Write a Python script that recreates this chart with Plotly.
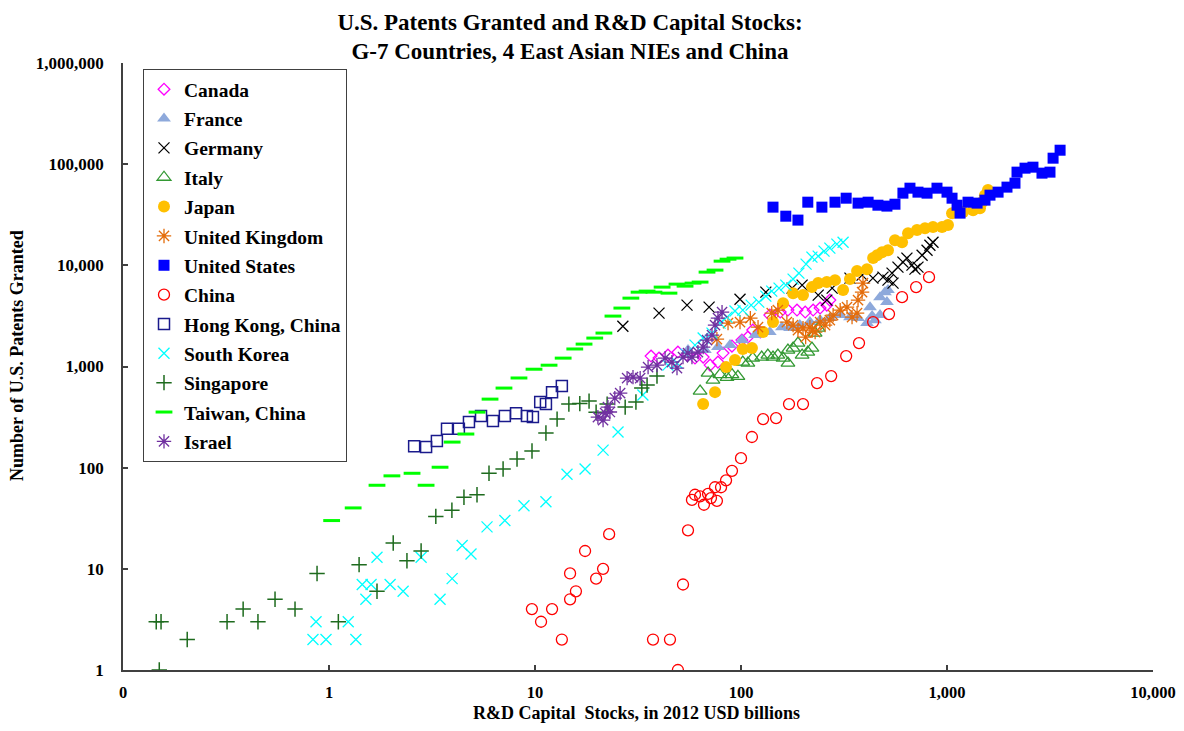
import plotly.graph_objects as go

# ---------------- data (R&D capital stock, USD bn ; US patents granted) ----------------
canada_x = [36.6, 40.0, 44.2, 49.4, 54.7, 59.8, 65.5, 70.8, 77.3, 81.8, 90.4, 101, 108, 114, 124,
            138, 155, 169, 187, 205, 224, 242, 261, 270]
canada_y = [1267, 1211, 1296, 1388, 1296, 1211, 1238, 1032, 1105, 1357, 1590, 1823, 1952, 2290, 2188,
            3220, 3450, 3610, 3610, 3450, 3610, 3780, 4040, 4530]

france_x = [55.3, 66.8, 77.3, 88.4, 101, 117, 138, 158, 173, 193, 216, 242, 270, 303, 338, 370,
            409, 433, 447, 473, 423, 473, 500, 517, 511]
france_y = [1453, 1453, 1556, 1628, 1823, 2044, 2188, 2450, 2396, 2566, 2748, 2880, 3010, 3220, 3076, 3010,
            2686, 3150, 2873, 3220, 3860, 4850, 5430, 5690, 4330]

germany_x = [26.7, 40.0, 54.7, 70, 98.9, 132, 177, 198, 237, 261, 277, 338, 387, 437, 489, 517, 547,
             541, 578, 611, 639, 676, 699, 723, 757, 800, 826, 855]
germany_y = [2500, 3370, 4040, 3860, 4630, 5430, 5950, 6370, 5080, 4530, 5950, 7480, 8000, 7480, 7640, 7140,
             6670, 8380, 9600, 10760, 11780, 10040, 9170, 9600, 12600, 14100, 15800, 16900]

italy_x = [63.3, 69.2, 73.1, 79.1, 85.5, 90.4, 96.6, 102, 108, 114, 126, 135, 143, 151, 160, 169, 169,
           179, 189, 198, 211, 221, 229, 237]
italy_y = [571, 860, 734, 830, 780, 830, 800, 1105, 1081, 1211, 1238, 1296, 1238, 1296, 1211, 1081, 1453,
           1520, 1703, 1296, 1388, 1520, 2138, 2396]

japan_x = [65.5, 74.8, 84.6, 93.5, 102, 113, 128, 143, 160, 179, 200, 221, 237, 261, 286, 313, 338, 366,
           409, 438, 458, 484, 517, 559, 605, 647, 715, 782, 855, 946, 1011, 1058, 1197, 1338, 1446, 1479,
           1529, 1581]
japan_y = [425, 558, 986, 1157, 1486, 1520, 2188, 2748, 4230, 5310, 5080, 6090, 6680, 6830, 7140, 5690, 7310,
           8770, 9170, 11800, 12600, 13500, 14100, 17700, 16900, 20800, 22300, 23300, 23900, 23900, 25000,
           32800, 33600, 35100, 36700, 42100, 49400, 55400]

uk_x = [76.4, 86.5, 98.9, 111, 121, 141, 151, 167, 179, 189, 200, 216, 229, 242, 256, 270, 280, 303,
        327, 346, 366, 370, 387, 391, 206, 222]
uk_y = [1866, 2686, 2748, 3010, 2450, 3370, 3610, 2748, 2566, 2290, 2396, 2450, 2188, 2748, 2566, 2873,
        3220, 3610, 3860, 3076, 3370, 4530, 5430, 6670, 1952, 2290]

us_x = [143, 165, 189, 211, 247, 286, 324, 370, 414, 462, 511, 559, 611, 661, 723, 800, 894, 1000, 1058,
        1119, 1157, 1265, 1400, 1529, 1617, 1770, 1955, 2138, 2187, 2392, 2614, 2891, 3162, 3273, 3540]
us_y = [37600, 30600, 28000, 42100, 37600, 42100, 46100, 41200, 42100, 39300, 38500, 40200, 51700, 57900,
        52900, 51700, 57900, 52900, 46100, 39300, 32800, 42100, 41200, 44100, 49400, 52900, 59300, 64900,
        83400, 91300, 93400, 81500, 83400, 114600, 137400]

china_x = [9.66, 10.7, 12.1, 13.5, 14.8, 15.8, 14.8, 17.5, 19.8, 21.4, 22.9, 37.4, 45.2, 49.4, 52.3, 55.3,
           57.8, 59.8, 63.3, 66.1, 69.2, 71.5, 74.8, 76.4, 80.0, 84.6, 90.4, 100, 113, 128, 148, 171, 200,
           234, 274, 324, 374, 438, 523, 605, 708, 818]
china_y = [4, 3, 4, 2, 5, 6, 9, 15, 8, 10, 22, 2, 2, 1, 7, 24, 48, 54, 52, 43, 55, 50, 64, 47, 64, 75, 93,
           124, 201, 302, 309, 425, 425, 686, 804, 1267, 1703, 2748, 3296, 4850, 6090, 7640]

hongkong_x = [2.59, 2.96, 3.34, 3.74, 4.27, 4.78, 5.47, 6.25, 7.14, 8.09, 9.14, 9.77, 10.6, 11.3, 12.1, 13.5]
hongkong_y = [163, 160, 183, 242, 242, 282, 324, 289, 324, 346, 324, 316, 445, 425, 558, 640]

korea_x = [0.865, 0.836, 0.967, 1.24, 1.35, 1.45, 1.60, 1.51, 1.71, 1.98, 2.29, 2.80, 3.46, 3.96, 4.43, 4.89,
           5.85, 7.14, 8.84, 11.3, 14.3, 17.5, 21.4, 25.3, 33.4, 44.2, 48.9, 54.1, 59.8, 65.5, 72.3, 79.1,
           85.5, 93.5, 102, 112, 122, 132, 141, 153, 165, 179, 191, 207, 221, 237, 253, 270, 292, 313]
korea_y = [3, 2, 2, 3, 2, 7, 7, 5, 13, 7, 6, 13, 5, 8, 17, 14, 26, 30, 42, 46, 86, 97, 149, 225, 522,
           1032, 1081, 1326, 1628, 1910, 2138, 2686, 3076, 3530, 3610, 4040, 4330, 4960, 5560, 5950, 6370,
           7310, 8380, 10270, 12050, 12330, 13810, 14790, 16200, 16900]

singapore_x = [0.150, 0.145, 0.153, 0.205, 0.32, 0.383, 0.452, 0.547, 0.684, 0.875, 1.11, 1.40, 1.71, 2.05,
               2.39, 2.80, 3.30, 3.95, 4.52, 5.23, 5.98, 7.0, 8.18, 9.67, 11.3, 12.8, 14.6, 16.5, 18.3,
               19.8, 22.4, 27.4, 30.9, 33.0, 35.0, 39.1]
singapore_y = [1, 3, 3, 2, 3, 4, 3, 5, 4, 9, 3, 11, 6, 18, 12, 15, 33, 38, 51, 54, 88, 97, 122, 146, 220,
               302, 425, 430, 455, 354, 425, 397, 445, 612, 655, 804]

taiwan_x = [1.03, 1.31, 1.71, 2.02, 2.53, 2.96, 3.46, 3.96, 4.62, 5.23, 6.05, 7.07, 8.36, 9.89, 11.7, 13.7,
            15.6, 17.3, 19.5, 21.6, 23.9, 26.4, 29.2, 32.0, 35.0, 37.8, 41.4, 44.7, 48.9, 53.5, 58.5, 63.3,
            68.4, 74.8, 80.9, 86.5, 93.5]
taiwan_y = [30, 40, 67, 83, 88, 67, 101, 179, 215, 354, 476, 612, 770, 940, 1030, 1210, 1490, 1665, 1910,
            2140, 3150, 3780, 4740, 5430, 5560, 5430, 6090, 5310, 6520, 6230, 6670, 6830, 8570, 8970, 11000,
            11500, 11800]

israel_x = [20.2, 21.4, 21.9, 23.1, 22.6, 24.4, 25.9, 28.0, 29.9, 32.4, 35.4, 39.1, 42.8, 46.2, 48.9, 52.3,
            55.3, 57.8, 61.8, 65.5, 68.4, 72.3, 74.8, 77.3, 80.9]
israel_y = [316, 295, 346, 355, 397, 487, 546, 768, 786, 768, 986, 1032, 1211, 1105, 964, 1238, 1357, 1238,
            1388, 1556, 1823, 2044, 2566, 3010, 3450]

x_tickvals = [0.1, 1, 10, 100, 1000, 10000]
x_ticktext = ["0", "1", "10", "100", "1,000", "10,000"]
y_tickvals = [1, 10, 100, 1000, 10000, 100000, 1000000]
y_ticktext = ["1", "10", "100", "1,000", "10,000", "100,000", "1,000,000"]

# ---------------- styling ----------------
FONT = "Liberation Serif, Times New Roman, serif"

series = [
    ("Canada", canada_x, canada_y, "diamond-open", "#FF00FF", 9, 1.3),
    ("France", france_x, france_y, "triangle-up", "#8EA9DB", 12, 0),
    ("Germany", germany_x, germany_y, "x-thin-open", "#000000", 11, 1.3),
    ("Italy", italy_x, italy_y, "triangle-up-open", "#339933", 12, 1.3),
    ("Japan", japan_x, japan_y, "circle", "#FFC000", 12, 0),
    ("United Kingdom", uk_x, uk_y, "asterisk-open", "#E46C0A", 12, 1.3),
    ("United States", us_x, us_y, "square", "#0000FF", 11, 0),
    ("China", china_x, china_y, "circle-open", "#FF0000", 11, 1.3),
    ("Hong Kong, China", hongkong_x, hongkong_y, "square-open", "#1A1A8C", 11, 1.5),
    ("South Korea", korea_x, korea_y, "x-thin-open", "#00FFFF", 11, 1.3),
    ("Singapore", singapore_x, singapore_y, "cross-thin-open", "#1E6B1E", 11, 1.5),
    ("Taiwan, China", taiwan_x, taiwan_y, "line-ew-open", "#00FF00", 12, 3),
    ("Israel", israel_x, israel_y, "asterisk-open", "#7030A0", 12, 1.3),
]

fig = go.Figure()
for name, xs, ys, sym, col, size, lw in series:
    marker = dict(symbol=sym, color=col, size=size)
    if lw:
        marker["line"] = dict(color=col, width=lw)
    else:
        marker["line"] = dict(width=0)
    fig.add_trace(go.Scatter(x=xs, y=ys, mode="markers", name=name, marker=marker,
                             legendgroup=name))

# page body has an 8px margin; figure is sized so the plot area lands at x 123-1153, y 63-670
OFF = 8
W, H = 1168, 715
L, T = 123 - OFF, 63 - OFF
PW, PH = 1030, 607
R, B = W - L - PW, H - T - PH


def px_x(px):  # absolute page pixel -> paper x
    return (px - OFF - L) / PW


def px_y(py):  # absolute page pixel -> paper y
    return (T + PH - (py - OFF)) / PH


fig.update_layout(
    width=W, height=H, autosize=False,
    margin=dict(l=L, r=R, t=T, b=B, pad=0, autoexpand=False),
    paper_bgcolor="white", plot_bgcolor="white",
    font=dict(family=FONT, color="black", size=16, weight="bold"),
    showlegend=True,
    legend=dict(
        x=px_x(143), y=px_y(69), xanchor="left", yanchor="top",
        bgcolor="white", bordercolor="#404040", borderwidth=1,
        font=dict(family=FONT, size=19.5, color="black", weight="bold"),
        tracegroupgap=1, itemsizing="trace",
    ),
    title=dict(
        text="U.S. Patents Granted and R&D Capital Stocks:<br>G-7 Countries, 4 East Asian NIEs and China",
        x=(570 - OFF) / W, xanchor="center", xref="container",
        y=1 - (29.5 - OFF) / H, yanchor="middle", yref="container",
        font=dict(family=FONT, size=23, color="black", weight="bold"),
    ),
    xaxis=dict(
        type="log", range=[-1, 4], tickvals=x_tickvals, ticktext=x_ticktext, automargin=False,
        showgrid=False, zeroline=False, showline=True, linecolor="#404040", linewidth=1.5,
        ticks="inside", ticklen=5, tickwidth=1.5, tickcolor="#404040",
        ticklabelstandoff=6, ticklabeloverflow="allow",
        tickfont=dict(family=FONT, size=16.5, weight="bold"),
    ),
    yaxis=dict(
        type="log", range=[0, 6], tickvals=y_tickvals, ticktext=y_ticktext, automargin=False,
        showgrid=False, zeroline=False, showline=True, linecolor="#404040", linewidth=1.5,
        ticks="inside", ticklen=5, tickwidth=1.5, tickcolor="#404040",
        ticklabelstandoff=14, tickfont=dict(family=FONT, size=17, weight="bold"),
    ),
    annotations=[
        dict(text="R&D Capital  Stocks, in 2012 USD billions", xref="paper", yref="paper",
             x=px_x(636), y=px_y(713), xanchor="center", yanchor="middle",
             showarrow=False, font=dict(family=FONT, size=18, weight="bold")),
        dict(text="Number of U.S. Patents Granted", xref="paper", yref="paper", textangle=-90,
             x=px_x(17), y=px_y(356), xanchor="center", yanchor="middle",
             showarrow=False, font=dict(family=FONT, size=18, weight="bold")),
    ],
)

fig.write_html("out.html", config={"displayModeBar": False})
